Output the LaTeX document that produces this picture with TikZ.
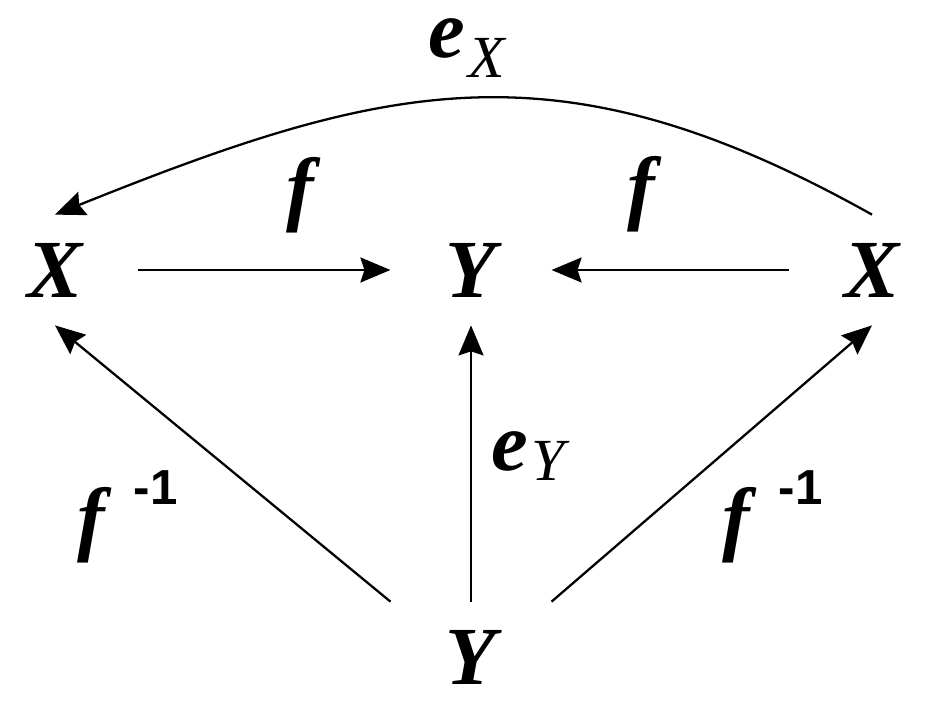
\documentclass[tikz,border=0pt]{standalone}
\usepackage{fontspec}
\setmainfont{Liberation Serif}
\newfontfamily\bifont{LiberationSerif-BoldItalic.ttf}
\newfontfamily\supfont{Liberation Sans}
\usepackage{tikz}
\usetikzlibrary{arrows.meta}

\tikzset{
  obj/.style={font=\fontsize{47}{50}\selectfont\bifont, inner xsep=1.1cm, inner ysep=0.56cm},
  lbl/.style={font=\fontsize{47}{50}\selectfont\bifont, inner sep=0pt},
  arr/.style={-{Stealth[length=0.6cm, width=0.5cm, inset=0.08cm]}, line width=1.3pt}
}
\newcommand{\subtxt}[1]{{\fontsize{34}{36}\selectfont\rmfamily\itshape #1}}
\newcommand{\invtxt}{{\supfont\upshape\fontsize{28}{30}\selectfont\bfseries -1}}

\begin{document}
\begin{tikzpicture}[x=0.02cm, y=-0.02cm]
  \useasboundingbox (0,0) rectangle (929,713);

  % Objects
  \node[obj] (Xl) at (55,270) {X};
  \node[obj] (Yt) at (471,270) {Y};
  \node[obj] (Xr) at (872,270) {X};
  \node[obj] (Yb) at (471,657) {Y};

  % Arrows
  \draw[arr] (Xl.east) -- (Yt.west);
  \draw[arr] (Xr.west) -- (Yt.east);
  \draw[arr] (Yb.north) -- (Yt.south);
  \draw[arr] (Yb.north west) -- (Xl.south);
  \draw[arr] (Yb.north east) -- (Xr.south);
  \draw[arr] (Xr.north) .. controls (560,40) and (390,80) .. (Xl.north);

  % Labels
  \node[lbl] (fl) at (300,195) {f};
  \node[lbl] (fr) at (641,194) {f};
  \node[lbl] (eX) at (467,48) {e\hspace{2pt}\raisebox{-11pt}{\subtxt{X}}};
  \node[lbl] (eY) at (528,456) {e\hspace{2pt}\raisebox{-5.7pt}{\subtxt{Y}}};
  \node[lbl, anchor=base west] (finvl) at (77,545) {f\hspace{16.5pt}\raisebox{22.8pt}{\invtxt}};
  \node[lbl, anchor=base west] (finvr) at (722,545) {f\hspace{16.5pt}\raisebox{22.8pt}{\invtxt}};
\end{tikzpicture}
\end{document}
